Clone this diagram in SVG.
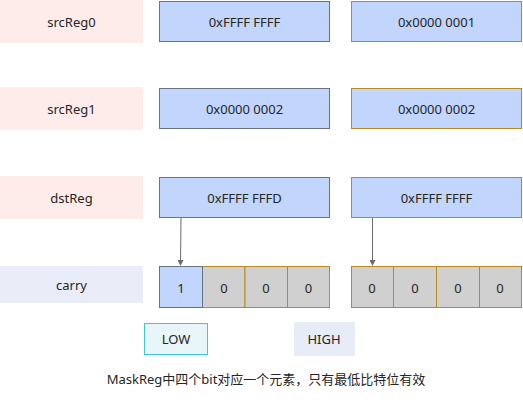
<svg xmlns="http://www.w3.org/2000/svg" width="523" height="404" viewBox="0 0 523 404">
<defs>
<style>
text{font-family:"Noto Sans","Noto Sans CJK SC",sans-serif;font-size:13px;fill:#252525;text-anchor:middle;dominant-baseline:central}
.lbl{fill:#fdecea;stroke:none}
.lblb{fill:#e8edf7;stroke:none}
.bg{fill:#c2d5fc;stroke:#6b7180;stroke-width:1}
.bo{fill:#c2d5fc;stroke:#b8891f;stroke-width:1}
.go{fill:#cfd0cf;stroke:#b8891f;stroke-width:1}
.conn{stroke:#6b6b6b;stroke-width:1;fill:none}
</style>
<marker id="ah" markerWidth="6" markerHeight="6" refX="5" refY="3" orient="auto" markerUnits="userSpaceOnUse">
<path d="M0,0 L6,3 L0,6 Z" fill="#6b6b6b"/>
</marker>
</defs>
<rect width="523" height="404" fill="#fff"/>
<g id="label-srcReg0"><rect class="lbl" x="0" y="0" width="143" height="43"/><text x="71.5" y="21.5">srcReg0</text></g>
<g id="label-srcReg1"><rect class="lbl" x="0" y="87" width="143" height="43"/><text x="71.5" y="108.5">srcReg1</text></g>
<g id="label-dstReg"><rect class="lbl" x="0" y="176" width="143" height="43"/><text x="71.5" y="197.5">dstReg</text></g>
<g id="label-carry"><rect class="lblb" x="0" y="266" width="143" height="37"/><text x="71.5" y="284.5">carry</text></g>
<g id="src0-low"><rect class="bg" x="159.5" y="1.5" width="170" height="40"/><text x="244.5" y="21.5">0xFFFF FFFF</text></g>
<g id="src0-high"><rect class="bo" x="351.5" y="1.5" width="170" height="40"/><text x="436.5" y="21.5">0x0000 0001</text></g>
<g id="src1-low"><rect class="bg" x="159.5" y="88.5" width="170" height="40"/><text x="244.5" y="108.5">0x0000 0002</text></g>
<g id="src1-high"><rect class="bo" x="351.5" y="88.5" width="170" height="40"/><text x="436.5" y="108.5">0x0000 0002</text></g>
<g id="dst-low"><rect class="bg" x="159.5" y="177.5" width="170" height="40"/><text x="244.5" y="197.5">0xFFFF FFFD</text></g>
<g id="dst-high"><rect class="bo" x="351.5" y="177.5" width="170" height="40"/><text x="436.5" y="197.5">0xFFFF FFFF</text></g>
<g id="carry-low">
<rect class="go" x="202.5" y="266.5" width="42.5" height="41"/>
<rect class="go" x="245" y="266.5" width="42.5" height="41"/>
<rect class="go" x="287.5" y="266.5" width="42" height="41"/>
<rect class="bg" x="159.5" y="266.5" width="43" height="41"/>
<text x="181" y="288">1</text><text x="224" y="288">0</text><text x="266" y="288">0</text><text x="308.5" y="288">0</text>
</g>
<g id="carry-high">
<rect class="go" x="351.5" y="266.5" width="42" height="41"/>
<rect class="go" x="393.5" y="266.5" width="43" height="41"/>
<rect class="go" x="436.5" y="266.5" width="43" height="41"/>
<rect class="go" x="479.5" y="266.5" width="42" height="41"/>
<text x="372" y="288">0</text><text x="415" y="288">0</text><text x="458" y="288">0</text><text x="500" y="288">0</text>
</g>
<g id="connectors">
<line class="conn" x1="181" y1="218" x2="180.5" y2="265" marker-end="url(#ah)"/>
<line class="conn" x1="372.5" y1="218" x2="372.5" y2="265" marker-end="url(#ah)"/>
</g>
<g id="legend-low"><rect x="144.5" y="323.5" width="63" height="31" fill="#e8f5f9" stroke="#3ec6d9" stroke-width="1"/><text x="176" y="339">LOW</text></g>
<g id="legend-high"><rect x="294" y="322" width="61" height="34" fill="#e8ecf7"/><text x="324" y="339">HIGH</text></g>
<text x="266" y="379">MaskReg中四个bit对应一个元素，只有最低比特位有效</text>
</svg>
